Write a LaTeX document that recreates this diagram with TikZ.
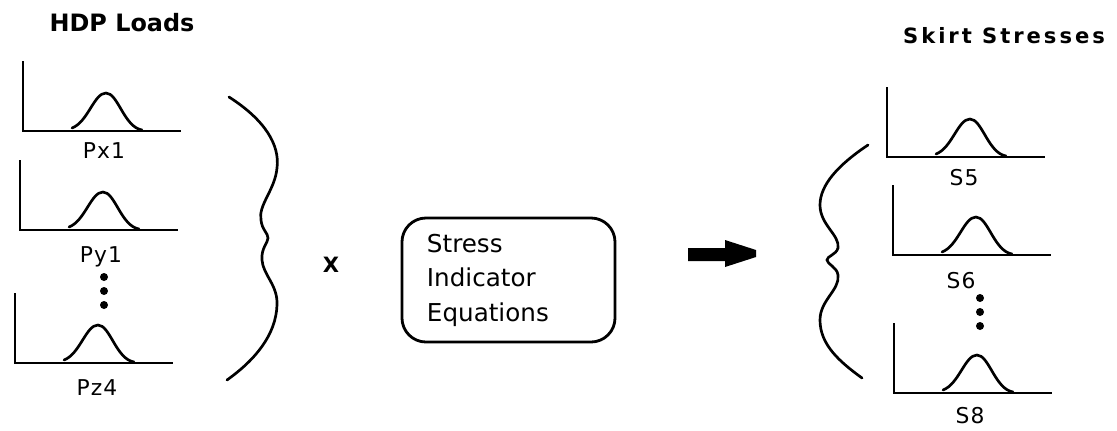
\documentclass[tikz,border=0pt]{standalone}
\usepackage{fontspec}
\setmainfont{DejaVu Sans}
\newfontfamily\widefont[LetterSpace=14]{DejaVu Sans}
\newfontfamily\labelfont[LetterSpace=5]{DejaVu Sans}
\usetikzlibrary{positioning}

\begin{document}
\begin{tikzpicture}[
        x=0.025cm, y=-0.025cm,
        axis/.style={line width=2pt, line cap=butt},
        curve/.style={line width=1.9pt, line cap=round},
        brace/.style={line width=1.9pt, line cap=round},
        dot/.style={fill=black},
        title/.style={anchor=base, inner sep=0pt},
        plotlabel/.style={anchor=base, inner sep=0pt, font=\labelfont\fontsize{15.5}{18}\selectfont},
        eqbox/.style={draw, line width=2pt, rounded corners=0.6cm, minimum width=5.325cm, minimum height=3.1cm, inner xsep=0.625cm, text width=4.075cm, align=left, font=\fontsize{17.5}{24.5}\selectfont},
        distplot/.pic={
            \draw[axis] (0,-70) |- (158,0);
            \draw[curve] (49,-3) .. controls (65,-9) and (71,-38) .. (83,-38) .. controls (95,-38) and (101,-4) .. (119,-1);
        }
    ]
        \useasboundingbox (0,0) rectangle (1117,430);

        % Loads
        \node[title, font=\bfseries\fontsize{17}{20}\selectfont] (loads) at (122,31) {HDP Loads};
        \pic at (23,131) {distplot};
        \node[plotlabel] (px1) at (104,158) {Px1};
        \pic at (20,230) {distplot};
        \node[plotlabel] (py1) at (101,262) {Py1};
        \fill[dot] (104,277) circle (0.1cm) (104,291) circle (0.1cm) (104,305) circle (0.1cm);
        \pic at (15,363) {distplot};
        \node[plotlabel] (pz4) at (97,395) {Pz4};
        \draw[brace] (229,97) .. controls (265,120) and (280,145) .. (277,168) .. controls (275,190) and (258,205) .. (261,220) .. controls (262,230) and (268,233) .. (268,238) .. controls (268,243) and (261,248) .. (262,260) .. controls (263,275) and (278,285) .. (277,305) .. controls (276,335) and (255,360) .. (227,380);

        % Equations
        \node[font=\bfseries\fontsize{15}{18}\selectfont] (times) at (331,265) {X};
        \node[eqbox] (eqs) at (508.5,280) {Stress\\Indicator\\Equations};
        \fill (688,248) -- (725,248) -- (725,240) -- (756,250) -- (756,257) -- (725,267) -- (725,261) -- (688,261) -- cycle;

        % Stresses
        \node[title, font=\widefont\bfseries\fontsize{15}{18}\selectfont] (stresses) at (1004,43) {Skirt Stresses};
        \draw[brace] (868,145) .. controls (838,165) and (820,185) .. (820,205) .. controls (820,225) and (840,235) .. (838,248) .. controls (836,255) and (827,256) .. (827,260) .. controls (827,264) and (837,267) .. (838,275) .. controls (840,290) and (820,300) .. (820,320) .. controls (820,345) and (840,362) .. (862,378);
        \pic at (887,157) {distplot};
        \node[plotlabel] (s5) at (964,185) {S5};
        \pic at (893,255) {distplot};
        \node[plotlabel] (s6) at (961,288) {S6};
        \fill[dot] (980,298) circle (0.1cm) (980,312) circle (0.1cm) (980,326) circle (0.1cm);
        \pic at (894,393) {distplot};
        \node[plotlabel] (s8) at (970,423) {S8};
    \end{tikzpicture}
\end{document}
